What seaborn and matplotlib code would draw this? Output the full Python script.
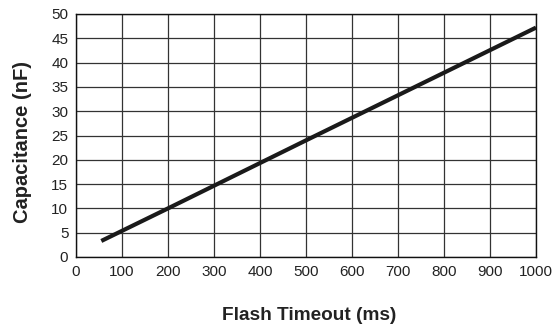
import matplotlib
matplotlib.use("Agg")
import matplotlib.pyplot as plt
import seaborn as sns
import pandas as pd

# Capacitance needed for a given flash timeout
timeout_ms = [55, 200, 500, 1000]
capacitance_nf = [3.3, 10.0, 24.0, 47.2]

x_ticks = list(range(0, 1001, 100))
y_ticks = list(range(0, 51, 5))

df = pd.DataFrame({"timeout": timeout_ms, "cap": capacitance_nf})

sns.set_theme(style="white")
plt.rcParams["font.family"] = ["Liberation Sans", "DejaVu Sans"]

fig = plt.figure(figsize=(5.54, 3.29), dpi=100)
ax = fig.add_axes([76 / 554, 1 - 257 / 329, 460 / 554, 243 / 329])

sns.lineplot(data=df, x="timeout", y="cap", ax=ax, color="#1a1a1a",
             linewidth=3, solid_capstyle="butt")

ax.set_xlim(0, 1000)
ax.set_ylim(0, 50)
ax.set_xticks(x_ticks)
ax.set_yticks(y_ticks)
ax.grid(True, color="#333333", linewidth=0.9)
ax.set_axisbelow(True)
ax.tick_params(axis="both", length=0, labelsize=11, colors="#222222", pad=5.5)
for s in ax.spines.values():
    s.set_color("#111111")
    s.set_linewidth(1.0)

ax.set_xlabel("")
ax.set_ylabel("")
fig.text(309 / 554, 1 - 316 / 329, "Flash Timeout (ms)", ha="center", va="center",
         fontsize=13.7, fontweight="bold", color="#222222")
fig.text(23 / 554, 1 - 142 / 329, "Capacitance (nF)", ha="center", va="center",
         rotation=90, fontsize=14.5, fontweight="bold", color="#222222")

fig.savefig("out.png", dpi=100)
